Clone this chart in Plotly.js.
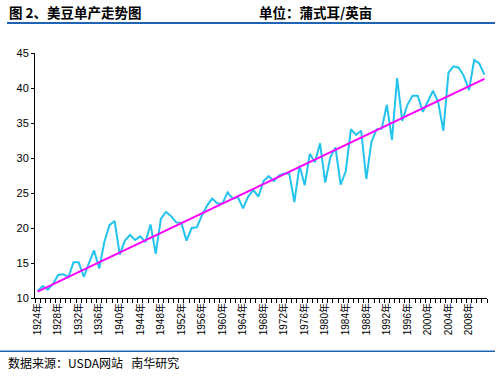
<!DOCTYPE html>
<html>
<head>
<meta charset="utf-8">
<script src="https://cdn.plot.ly/plotly-3.0.1.min.js"></script>
<style>html,body{margin:0;padding:0;background:#fff;}#chart{width:499px;height:377px;}</style>
</head>
<body>
<div id="chart"></div>
<script>
const years = [];
for (let y = 1924; y <= 2011; y++) years.push(y);
const yieldVals = [
  11.0, 11.7, 11.2, 12.0, 13.3, 13.4, 13.0, 15.1, 15.1, 13.0,
  15.0, 16.8, 14.2, 18.0, 20.4, 21.0, 16.2, 18.2, 19.0, 18.3,
  18.8, 18.0, 20.5, 16.3, 21.3, 22.3, 21.7, 20.8, 20.7, 18.2,
  20.0, 20.1, 21.8, 23.2, 24.2, 23.5, 23.5, 25.1, 24.2, 24.4,
  22.8, 24.5, 25.4, 24.5, 26.7, 27.4, 26.7, 27.5, 27.8, 27.8,
  23.7, 28.9, 26.1, 30.6, 29.4, 32.1, 26.5, 30.1, 31.5, 26.2,
  28.1, 34.1, 33.3, 33.9, 27.0, 32.3, 34.1, 34.2, 37.6, 32.6,
  41.4, 35.3, 37.6, 38.9, 38.9, 36.6, 38.1, 39.6, 38.0, 33.9,
  42.2, 43.1, 42.9, 41.7, 39.7, 44.0, 43.5, 41.9
];
const trendYears = [1924, 2011];
const trendVals = [10.9, 41.3];
const tickYears = [];
for (let y = 1924; y <= 2008; y += 4) tickYears.push(y);
const tickLabels = tickYears.map(y => y + '年');

const L = 35, R = 12, T = 53.3, B = 78.7, W = 499, H = 377;
const pw = W - L - R, ph = H - T - B;
const px = x => (x - L) / pw;
const py = y => (H - B - y) / ph;
const blue = '#1F64B4';
const cjk = '"Noto Sans CJK SC", "Liberation Sans", sans-serif';

const data = [
  {x: years, y: yieldVals, type: 'scatter', mode: 'lines',
   line: {color: '#22C3EE', width: 2}, hoverinfo: 'skip'},
  {x: trendYears, y: trendVals, type: 'scatter', mode: 'lines',
   line: {color: '#FF00FF', width: 2}, hoverinfo: 'skip'}
];

const layout = {
  width: W, height: H,
  margin: {l: L, r: R, t: T, b: B, pad: 0},
  paper_bgcolor: '#fff', plot_bgcolor: '#fff',
  showlegend: false,
  font: {family: '"Liberation Sans", Arial, sans-serif', color: '#000', size: 11},
  xaxis: {
    range: [1923.5, 2011.5], showgrid: false, zeroline: false,
    showline: true, linecolor: '#000', linewidth: 1,
    tickmode: 'array', tickvals: tickYears, ticktext: tickLabels,
    ticks: '', tickangle: -90,
    tickfont: {size: 10, family: '"Liberation Sans", "Noto Sans CJK SC", sans-serif', color: '#000'},
    minor: {tickmode: 'linear', tick0: 1923.5, dtick: 1, ticks: 'outside', ticklen: 4, tickcolor: '#000', tickwidth: 1, showgrid: false}
  },
  yaxis: {
    range: [10, 45], dtick: 5, tick0: 10, showgrid: false, zeroline: false,
    showline: true, linecolor: '#000', linewidth: 1,
    ticks: 'outside', ticklen: 3, tickcolor: '#000',
    tickfont: {size: 11, color: '#000'}
  },
  annotations: [
    {text: '<b>图 2、美豆单产走势图</b>', xref: 'paper', yref: 'paper', x: px(7), y: py(12),
     xanchor: 'left', yanchor: 'middle', showarrow: false, font: {family: cjk, size: 13.5, color: '#000'}},
    {text: '<b>单位：蒲式耳/英亩</b>', xref: 'paper', yref: 'paper', x: px(257), y: py(12),
     xanchor: 'left', yanchor: 'middle', showarrow: false, font: {family: cjk, size: 13.5, color: '#000'}},
    {text: '数据来源：USDA网站&nbsp;&nbsp;&nbsp;南华研究', xref: 'paper', yref: 'paper', x: px(6), y: py(362.5),
     xanchor: 'left', yanchor: 'middle', showarrow: false, font: {family: cjk, size: 12, color: '#000'}}
  ],
  shapes: [
    {type: 'line', xref: 'paper', yref: 'paper', x0: px(7), x1: px(495), y0: py(23.3), y1: py(23.3),
     line: {color: blue, width: 2}},
    {type: 'line', xref: 'paper', yref: 'paper', x0: px(0), x1: px(495), y0: py(351.5), y1: py(351.5),
     line: {color: blue, width: 1.5}}
  ]
};

Plotly.newPlot('chart', data, layout, {displayModeBar: false, staticPlot: true});
</script>
</body>
</html>
